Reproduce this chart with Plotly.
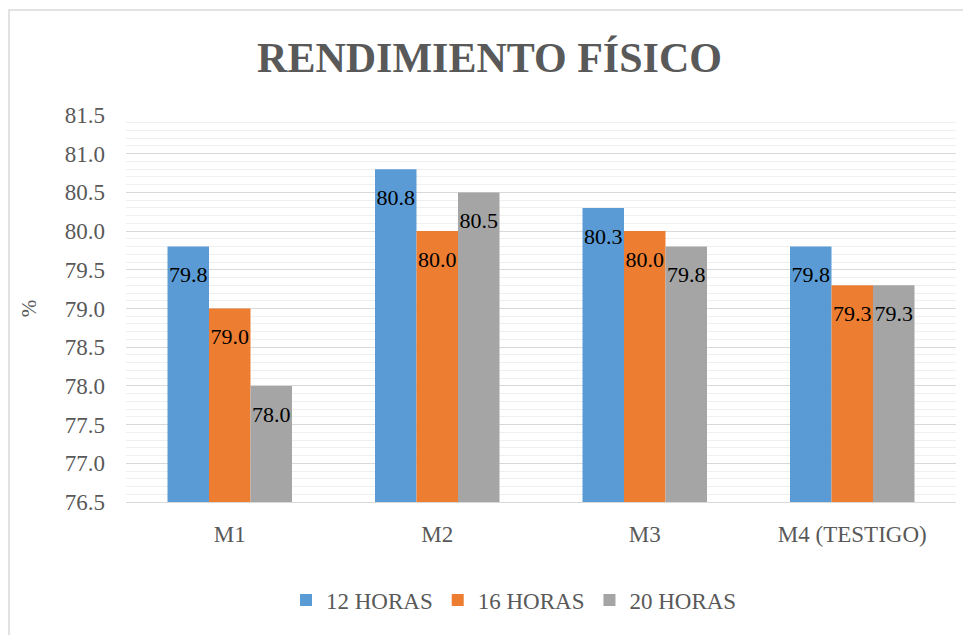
import plotly.graph_objects as go

categories = ["M1", "M2", "M3", "M4 (TESTIGO)"]
series_names = ["12 HORAS", "16 HORAS", "20 HORAS"]
h12 = [79.8, 80.8, 80.3, 79.8]
h16 = [79.0, 80.0, 80.0, 79.3]
h20 = [78.0, 80.5, 79.8, 79.3]
colors = ["#5B9BD5", "#ED7D31", "#A5A5A5"]
tick_vals = [76.5, 77.0, 77.5, 78.0, 78.5, 79.0, 79.5, 80.0, 80.5, 81.0, 81.5]

serif = "Liberation Serif"
fs = 23
fig = go.Figure()
for i, (name, vals, col) in enumerate(zip(series_names, [h12, h16, h20], colors)):
    fig.add_trace(go.Bar(
        name=name, x=categories, y=vals, marker_color=col,
        marker_line_width=0, offsetgroup=str(i), hoverinfo="x+y",
    ))
# value labels, grouped like the bars, placed just inside each bar's top
for i, (name, vals) in enumerate(zip(series_names, [h12, h16, h20])):
    fig.add_trace(go.Scatter(
        x=categories, y=vals, mode="markers+text", showlegend=False,
        offsetgroup=str(i), hoverinfo="skip",
        marker=dict(size=29, color="rgba(0,0,0,0)"),
        text=[f"{v:.1f}" for v in vals], textposition="bottom center",
        textfont=dict(family=serif, size=fs - 1, color="#000000"),
    ))

OFF = 8  # page body margin
W, H = 971 - OFF, 635 - OFF
ml, mr, mt = 126 - OFF, 15, 115 - OFF
ph = 387
mb = H - mt - ph
pw = W - ml - mr

def px_x(x):
    return (x - OFF - ml) / pw

def px_y(y):
    return (mt + ph - (y - OFF)) / ph

fig.update_layout(
    width=W, height=H,
    margin=dict(l=ml, r=mr, t=mt, b=mb, autoexpand=False),
    paper_bgcolor="white", plot_bgcolor="white",
    barmode="group", bargap=0.4, bargroupgap=0,
    scattermode="group", scattergap=0.4,
    title=dict(text="<b>RENDIMIENTO FÍSICO</b>", x=0.5, xanchor="center",
               y=1 - (57 - OFF) / H, yanchor="middle",
               font=dict(family=serif, size=42, color="#595959")),
    font=dict(family=serif, size=fs, color="#595959"),
    legend=dict(orientation="h", x=px_x(514), xanchor="center",
                y=px_y(600), yanchor="middle",
                font=dict(family=serif, size=fs, color="#595959"),
                itemwidth=30, tracegroupgap=0),
    showlegend=True,
    xaxis=dict(showgrid=False, showline=True, linecolor="#D9D9D9", linewidth=1,
               ticks="", ticklabelstandoff=11,
               tickfont=dict(family=serif, size=fs, color="#595959")),
    yaxis=dict(range=[76.5, 81.5], tickvals=tick_vals,
               ticktext=[f"{v:.1f}" for v in tick_vals],
               showgrid=True, gridcolor="#D9D9D9", gridwidth=1,
               minor=dict(dtick=0.1, showgrid=True, gridcolor="#EFEFEF", gridwidth=1),
               zeroline=False, showline=False, ticks="", ticklabelstandoff=20,
               tickfont=dict(family=serif, size=fs, color="#595959"),
               title=dict(text="%", standoff=22,
                          font=dict(family=serif, size=fs - 2, color="#595959"))),
)

# outer chart border
fig.add_shape(type="rect", xref="paper", yref="paper",
              x0=px_x(9), x1=px_x(990),
              y0=px_y(660), y1=px_y(10),
              line=dict(color="#D9D9D9", width=1.5), fillcolor="rgba(0,0,0,0)",
              layer="below")

fig.write_html("out.html")
